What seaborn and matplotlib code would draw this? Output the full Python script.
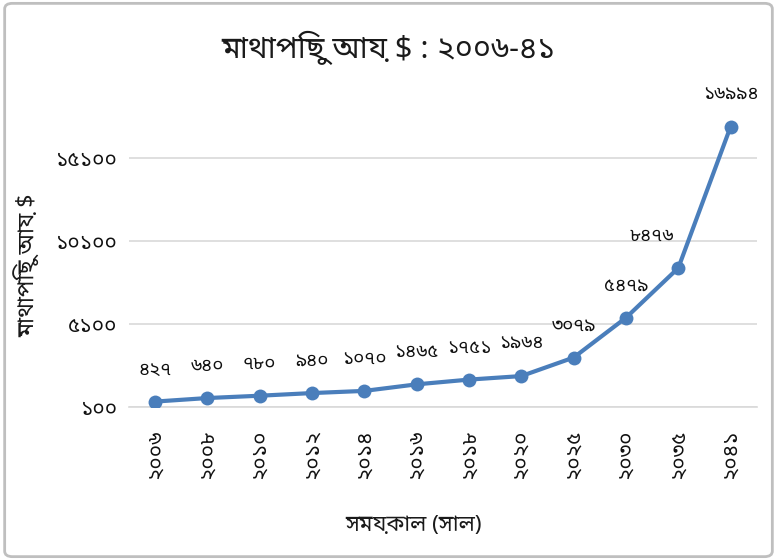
import matplotlib
matplotlib.use("Agg")
import matplotlib.pyplot as plt
import seaborn as sns
import pandas as pd
from matplotlib import font_manager
from matplotlib.patches import FancyBboxPatch

# chart data
years = [2006, 2008, 2010, 2012, 2014, 2016, 2018, 2020, 2025, 2030, 2035, 2041]
income = [427, 640, 780, 940, 1070, 1465, 1751, 1964, 3079, 5479, 8476, 16994]
y_ticks = [100, 5100, 10100, 15100]

title_text = "মাথাপিছু আয় $ : ২০০৬-৪১"
ylabel_text = "মাথাপিছু আয় $"
xlabel_text = "সময়কাল (সাল)"

# western digits -> bengali digits
bn_digits = str.maketrans("0123456789", "০১২৩৪৫৬৭৮৯")


def bn(n):
    return str(n).translate(bn_digits)


# look for installed fonts with bengali glyphs, prefer a proper bengali family
def find_bengali_font():
    try:
        from fontTools.ttLib import TTFont
    except ImportError:
        return None
    found = []
    for f in font_manager.fontManager.ttflist:
        try:
            tt = TTFont(f.fname, fontNumber=0, lazy=True)
            cmap = tt.getBestCmap()
            if cmap and 0x0995 in cmap and 0x09E6 in cmap:
                found.append(f.name)
        except Exception:
            continue
    if not found:
        return None

    def score(name):
        low = name.lower()
        s = 0
        if "bengali" in low or "bangla" in low:
            s -= 10
        if "noto" in low:
            s -= 3
        if "serif" in low:
            s += 1
        if "mono" in low or "code" in low:
            s += 20
        return s

    found = sorted(set(found), key=score)
    return found[0]


sns.set_theme(style="white")
bn_font = find_bengali_font()
families = [bn_font, "DejaVu Sans"] if bn_font else ["DejaVu Sans"]
plt.rcParams["font.family"] = families

df = pd.DataFrame({"pos": range(len(years)), "income": income})

fig = plt.figure(figsize=(7.77, 5.60), dpi=100)
ax = fig.add_axes([0.1658, 0.2732, 0.8082, 0.5928])

line_color = "#4a7ebb"
sns.lineplot(data=df, x="pos", y="income", ax=ax, color=line_color,
             linewidth=3, marker="o", markersize=10,
             markeredgewidth=0, zorder=3)

# data labels above the points (8476 sits to the left of the line)
for i, v in enumerate(income):
    dx = -19 if i == 10 else 0
    ax.annotate(bn(v), (i, v), xytext=(dx, 23), textcoords="offset points",
                ha="center", va="center", fontsize=13.5, color="#111111")

ax.set_xlim(-0.5, len(years) - 0.5)
ax.set_ylim(100, 20100)
ax.set_xticks(range(len(years)))
ax.set_xticklabels([bn(y) for y in years], rotation=90, fontsize=15,
                   color="#111111")
ax.set_yticks(y_ticks)
ax.set_yticklabels([bn(t) for t in y_ticks], fontsize=15, color="#111111")
ax.tick_params(axis="both", length=0)
ax.tick_params(axis="y", pad=8)
ax.tick_params(axis="x", pad=16)

ax.grid(axis="y", color="#d9d9d9", linewidth=1.2)
ax.set_axisbelow(True)
for side in ["top", "right", "left"]:
    ax.spines[side].set_visible(False)
ax.spines["bottom"].set_color("#d9d9d9")
ax.spines["bottom"].set_linewidth(1.2)

ax.set_xlabel("")
ax.set_ylabel("")
fig.text(0.50, 0.914, title_text, ha="center", va="center", fontsize=22,
         color="#1a1a1a")
fig.text(0.036, 0.527, ylabel_text, ha="center", va="center", rotation=90,
         fontsize=16.5, color="#1a1a1a")
fig.text(0.532, 0.062, xlabel_text, ha="center", va="center", fontsize=16,
         color="#1a1a1a")

# light rounded frame around the whole chart
frame = FancyBboxPatch((0.006, 0.006), 0.988, 0.988,
                       boxstyle="round,pad=0,rounding_size=0.01",
                       transform=fig.transFigure, fill=False,
                       edgecolor="#bfbfbf", linewidth=2)
fig.patches.append(frame)

fig.savefig("out.png", dpi=100, facecolor="white")
